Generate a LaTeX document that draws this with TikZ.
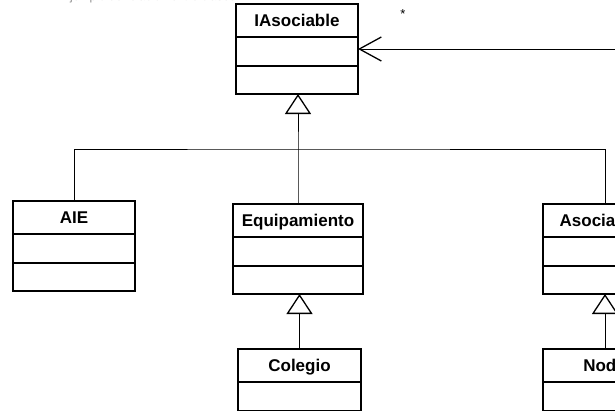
\documentclass[tikz,border=0pt]{standalone}
\usepackage{fontspec}
\setmainfont{Liberation Sans}
\usetikzlibrary{arrows.meta}
\definecolor{capred}{HTML}{F05A28}
\definecolor{capgrey}{HTML}{909090}
\tikzset{
  box/.style={draw=black, line width=1.6pt, fill=white, inner sep=0pt, outer sep=0pt, anchor=north,
    text height=12pt, text depth=0pt, font=\fontsize{17}{17}\selectfont\bfseries},
  link/.style={draw=black, line width=1pt},
  gen/.style={link, -{Triangle[open, length=20pt, width=26pt, line width=1.3pt]}},
  assoc/.style={link, -{Straight Barb[length=22pt, width=24pt, line width=1.3pt]}},
  lbl/.style={font=\fontsize{12}{12}\selectfont, inner sep=0pt}
}
\newcommand{\umlbox}[5]{%
  \node[box, minimum width=#4, minimum height=33] (#1) at (#2,#3) {#5};
  \node[box, minimum width=#4, minimum height=29] (#1b) at (#1.south) {};
  \node[box, minimum width=#4, minimum height=28] (#1c) at (#1b.south) {};
}
\begin{document}
\begin{tikzpicture}[x=1pt,y=-1pt]
\useasboundingbox (0,0) rectangle (615,410);
\fill[white] (0,0) rectangle (615,410);
% caption (cut off at the top)
\node[lbl, anchor=base west, text=capred] (capa) at (-6,0) {g};
\node[lbl, anchor=base west, text=capgrey] (capb) at (62,0) {Ejemplo de relaci\'on entre clases};
% classes
\umlbox{ia}{297}{4}{122}{IAsociable}
\umlbox{aie}{74}{201}{122}{AIE}
\umlbox{eq}{298}{204}{130}{Equipamiento}
\umlbox{as}{605}{204}{124}{Asociaci\'on}
\umlbox{col}{299.5}{349}{123}{Colegio}
\umlbox{nod}{605}{349}{124}{Nodo}
% generalisation tree
\coordinate (spine) at (298,149);
\coordinate (far) at (630,49);
\draw[link] (aie.north) |- (spine) -| (as.north);
\draw[gen] (eq.north) -- (spine) -- (iac.south -| eq.north);
\draw[gen] (col.north) -- (col.north |- eqc.south);
\draw[gen] (nod.north) -- (asc.south -| nod.north);
% association
\draw[assoc] (far) -- (ia.east |- far);
\node[lbl, font=\fontsize{13}{13}\selectfont] (star) at (403,14) {*};
\end{tikzpicture}
\end{document}
